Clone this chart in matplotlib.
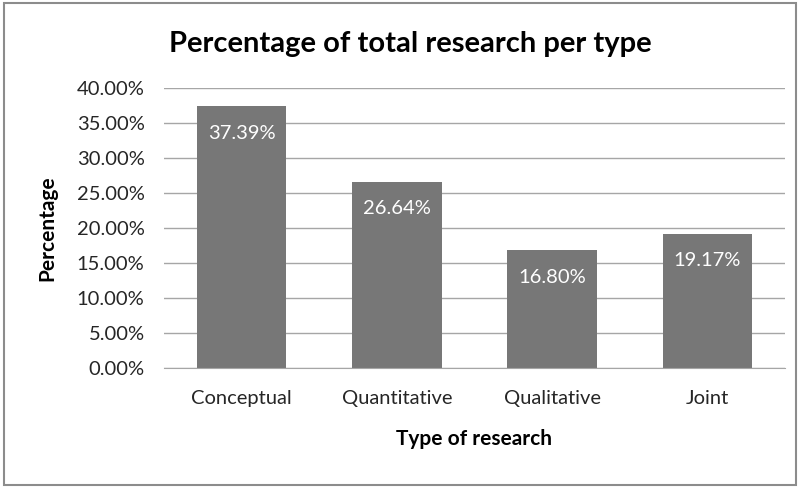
import matplotlib.pyplot as plt
from matplotlib.patches import Rectangle
from matplotlib.ticker import FuncFormatter

categories = ['Conceptual', 'Quantitative', 'Qualitative', 'Joint']
values = [37.39, 26.64, 16.80, 19.17]
yticks = [0, 5, 10, 15, 20, 25, 30, 35, 40]

plt.rcParams['font.family'] = ['Lato', 'DejaVu Sans']

fig = plt.figure(figsize=(7.99, 4.87), dpi=100)
ax = fig.add_axes([164 / 799, 1 - 368 / 487, (785 - 164) / 799, (368 - 88) / 487])

x = range(len(categories))
bars = ax.bar(x, values, width=0.575, color='#777777', zorder=2)
for b, v in zip(bars, values):
    ax.annotate(f'{v:.2f}%', (b.get_x() + b.get_width() / 2, v),
                xytext=(0, -27), textcoords='offset pixels',
                ha='center', va='center', color='white', fontsize=14.5)

ax.set_xlim(-0.5, len(categories) - 0.5)
ax.set_ylim(0, 40)
ax.set_yticks(yticks)
ax.yaxis.set_major_formatter(FuncFormatter(lambda v, p: f'{v:.2f}%'))
ax.set_xticks(list(x))
ax.set_xticklabels(categories)
ax.grid(axis='y', color='#a6a6a6', linewidth=1, zorder=0)
for s in ['top', 'right', 'left']:
    ax.spines[s].set_visible(False)
ax.spines['bottom'].set_color('#a6a6a6')
ax.tick_params(axis='both', length=0, labelsize=14.5, colors='#262626')
ax.tick_params(axis='x', pad=16)
ax.tick_params(axis='y', pad=14)

ax.set_xlabel('Type of research', fontsize=15, fontweight='bold', labelpad=16)
ax.set_ylabel('Percentage', fontsize=15, fontweight='bold', labelpad=14)
fig.text(410 / 799, 1 - 44 / 487, 'Percentage of total research per type',
         ha='center', va='center', fontsize=21, fontweight='bold')

fig.patches.append(Rectangle((4 / 799, 2 / 487), 792 / 799, 482 / 487, transform=fig.transFigure,
                             fill=False, edgecolor='#8c8c8c', linewidth=1.5))

fig.savefig('out.png', dpi=100)
